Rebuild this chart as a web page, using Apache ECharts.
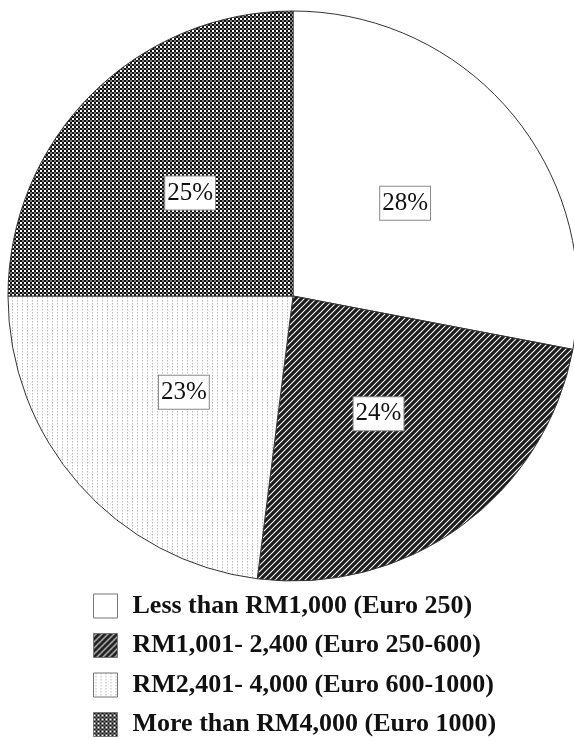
<!DOCTYPE html>
<html>
<head>
<meta charset="utf-8">
<script src="https://cdn.jsdelivr.net/npm/echarts@6/dist/echarts.min.js"></script>
<style>html,body{margin:0;padding:0;background:#fff;}#c{width:574px;height:740px;}</style>
</head>
<body>
<div id="c"></div>
<script>
const categories = ['Less than RM1,000 (Euro 250)', 'RM1,001- 2,400 (Euro 250-600)', 'RM2,401- 4,000 (Euro 600-1000)', 'More than RM4,000 (Euro 1000)'];
const values = [28, 24, 23, 25];

function tile(w, h, draw) {
  const c = document.createElement('canvas');
  c.width = w; c.height = h;
  const g = c.getContext('2d');
  g.fillStyle = '#fff'; g.fillRect(0, 0, w, h);
  draw(g);
  return { image: c, repeat: 'repeat' };
}
const hatch = tile(6, 6, g => {
  g.strokeStyle = '#1c1c1c'; g.lineWidth = 3.2;
  g.beginPath();
  g.moveTo(-3, 3); g.lineTo(3, -3);
  g.moveTo(0, 6); g.lineTo(6, 0);
  g.moveTo(3, 9); g.lineTo(9, 3);
  g.stroke();
});
const dots = tile(5, 3, g => {
  g.fillStyle = '#bdbdbd'; g.fillRect(2, 0, 1, 1);
  g.fillStyle = '#dcdcdc'; g.fillRect(2, 1, 1, 1);
});
const checker = tile(4, 4, g => {
  g.fillStyle = '#111'; g.fillRect(0, 0, 2, 2); g.fillRect(2, 2, 2, 2);
  g.fillStyle = '#777'; g.fillRect(2, 0, 2, 2);
});
const fills = ['#ffffff', hatch, dots, checker];

const legends = categories.map((name, i) => ({
  orient: 'vertical',
  left: 93, top: 593 + i * 39.5,
  padding: 0,
  itemWidth: 24, itemHeight: 24,
  icon: 'rect',
  selectedMode: false,
  itemStyle: { borderColor: '#777', borderWidth: 1 },
  textStyle: { fontFamily: 'Liberation Serif', fontWeight: 'bold', fontSize: 26, color: '#111', padding: [0, 0, 0, 10] },
  data: [name]
}));

const chart = echarts.init(document.getElementById('c'), null, { renderer: 'canvas' });
chart.setOption({
  animation: false,
  backgroundColor: '#fff',
  legend: legends,
  series: [{
    type: 'pie',
    center: [293, 296],
    radius: 285,
    startAngle: 90,
    clockwise: true,
    data: categories.map((n, i) => ({ name: n, value: values[i], itemStyle: { color: fills[i] } })),
    itemStyle: { borderColor: '#333', borderWidth: 1 },
    label: {
      show: true, position: 'inside',
      formatter: '{c}%',
      fontFamily: 'Liberation Serif', fontSize: 25, color: '#111',
      backgroundColor: '#fff', borderColor: '#888', borderWidth: 1,
      padding: [5, 2, 3, 2]
    },
    labelLine: { show: false },
    emphasis: { disabled: true }
  }]
});
</script>
</body>
</html>
